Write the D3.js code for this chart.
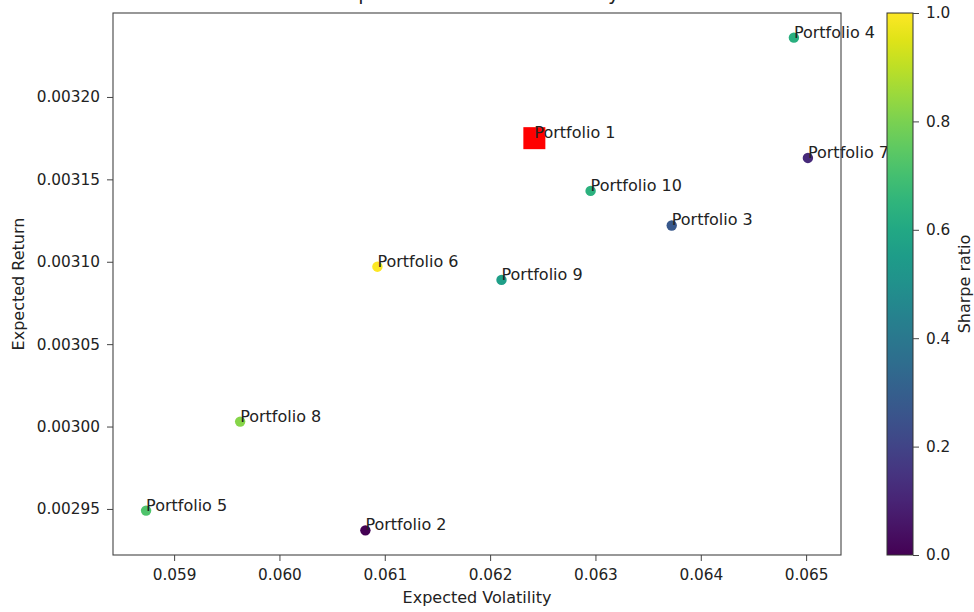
<!DOCTYPE html>
<html>
<head>
<meta charset="utf-8">
<script src="https://cdn.jsdelivr.net/npm/d3@7"></script>
<style>
  body { margin: 0; background: #fff; }
  text { font-family: "DejaVu Sans", sans-serif; fill: #222; }
</style>
</head>
<body>
<div id="graph"></div>
<script>
const names = ["Portfolio 1", "Portfolio 2", "Portfolio 3", "Portfolio 4", "Portfolio 5",
               "Portfolio 6", "Portfolio 7", "Portfolio 8", "Portfolio 9", "Portfolio 10"]
const volatility = [0.06242, 0.060816, 0.063724, 0.064884, 0.058734,
                    0.06093, 0.065017, 0.059627, 0.062108, 0.062954]
const returns = [0.003175, 0.002937, 0.003122, 0.003236, 0.002949,
                 0.003097, 0.003163, 0.003003, 0.003089, 0.003143]
const sharpe = [1.0, 0.0, 0.27, 0.63, 0.72, 1.0, 0.12, 0.82, 0.56, 0.64]
const best = 0   // max Sharpe portfolio, red square
const xTicks = [0.059, 0.060, 0.061, 0.062, 0.063, 0.064, 0.065]
const yTicks = [0.00295, 0.00300, 0.00305, 0.00310, 0.00315, 0.00320]
const cTicks = [0, 0.2, 0.4, 0.6, 0.8, 1.0]

const width = 974
const height = 612
const mLeft = 113, mRight = 841, mTop = 13, mBottom = 555
const tickFont = 15.3, labelFont = 16

const svg = d3.select("#graph").append("svg")
    .attr("width", width)
    .attr("height", height)

// matplotlib style 5% margins
const xr = d3.extent(volatility), yr = d3.extent(returns)
const xm = (xr[1] - xr[0]) * 0.05, ym = (yr[1] - yr[0]) * 0.05

const x = d3.scaleLinear()
    .domain([xr[0] - xm, xr[1] + xm])
    .range([mLeft, mRight])

const y = d3.scaleLinear()
    .domain([yr[0] - ym, yr[1] + ym])
    .range([mBottom, mTop])

const color = d3.scaleSequential(d3.interpolateViridis).domain([0, 1])

// Title, cut off at the top edge like in the screenshot (only descenders show)
svg.append("text")
    .attr("x", (mLeft + mRight) / 2)
    .attr("y", 0)
    .attr("text-anchor", "middle")
    .attr("font-size", 19.4)
    .text("Expected Return vs. Volatility")

// Points
const pts = d3.range(names.length)
svg.append("g")
    .selectAll()
    .data(pts)
    .join("circle")
    .attr("cx", i => x(volatility[i]))
    .attr("cy", i => y(returns[i]))
    .attr("r", 5.2)
    .attr("fill", i => color(sharpe[i]))

svg.append("rect")
    .attr("x", x(volatility[best]) - 11)
    .attr("y", y(returns[best]) - 11)
    .attr("width", 22)
    .attr("height", 22)
    .attr("fill", "#ff0000")

// Labels
svg.append("g")
    .selectAll()
    .data(pts)
    .join("text")
    .attr("x", i => x(volatility[i]))
    .attr("y", i => y(returns[i]))
    .attr("font-size", labelFont)
    .attr("fill", "#111")
    .text(i => names[i])

// Axes
const xAxis = svg.append("g")
    .attr("transform", `translate(0,${mBottom})`)
    .call(d3.axisBottom(x).tickValues(xTicks).tickFormat(d3.format(".3f")).tickSize(6).tickPadding(8))

const yAxis = svg.append("g")
    .attr("transform", `translate(${mLeft},0)`)
    .call(d3.axisLeft(y).tickValues(yTicks).tickFormat(d3.format(".5f")).tickSize(6).tickPadding(7))

for (const a of [xAxis, yAxis]) {
    a.select(".domain").remove()
    a.selectAll("line").attr("stroke", "#444")
    a.selectAll("text").attr("font-size", tickFont).attr("font-family", "DejaVu Sans").attr("fill", "#222")
}

svg.append("rect")
    .attr("x", mLeft)
    .attr("y", mTop)
    .attr("width", mRight - mLeft)
    .attr("height", mBottom - mTop)
    .attr("fill", "none")
    .attr("stroke", "#444")
    .attr("stroke-width", 1.1)

svg.append("text")
    .attr("x", (mLeft + mRight) / 2)
    .attr("y", 603)
    .attr("text-anchor", "middle")
    .attr("font-size", labelFont)
    .text("Expected Volatility")

svg.append("text")
    .attr("transform", `translate(24,${(mTop + mBottom) / 2}) rotate(-90)`)
    .attr("text-anchor", "middle")
    .attr("font-size", labelFont)
    .text("Expected Return")

// Colorbar
const cbX = 887, cbW = 26
const grad = svg.append("defs").append("linearGradient")
    .attr("id", "viridis")
    .attr("x1", 0).attr("y1", 1).attr("x2", 0).attr("y2", 0)
grad.selectAll("stop")
    .data(d3.range(0, 1.001, 0.05))
    .join("stop")
    .attr("offset", d => d)
    .attr("stop-color", d => color(d))

svg.append("rect")
    .attr("x", cbX)
    .attr("y", mTop)
    .attr("width", cbW)
    .attr("height", mBottom - mTop)
    .attr("fill", "url(#viridis)")
    .attr("stroke", "#333")
    .attr("stroke-width", 1)

const c = d3.scaleLinear().domain([0, 1]).range([mBottom, mTop])
const cAxis = svg.append("g")
    .attr("transform", `translate(${cbX + cbW},0)`)
    .call(d3.axisRight(c).tickValues(cTicks).tickFormat(d3.format(".1f")).tickSize(6).tickPadding(7))
cAxis.select(".domain").remove()
cAxis.selectAll("line").attr("stroke", "#444")
cAxis.selectAll("text").attr("font-size", tickFont).attr("font-family", "DejaVu Sans").attr("fill", "#222")

svg.append("text")
    .attr("transform", `translate(970,${(mTop + mBottom) / 2}) rotate(-90)`)
    .attr("text-anchor", "middle")
    .attr("font-size", labelFont)
    .text("Sharpe ratio")
</script>
</body>
</html>
